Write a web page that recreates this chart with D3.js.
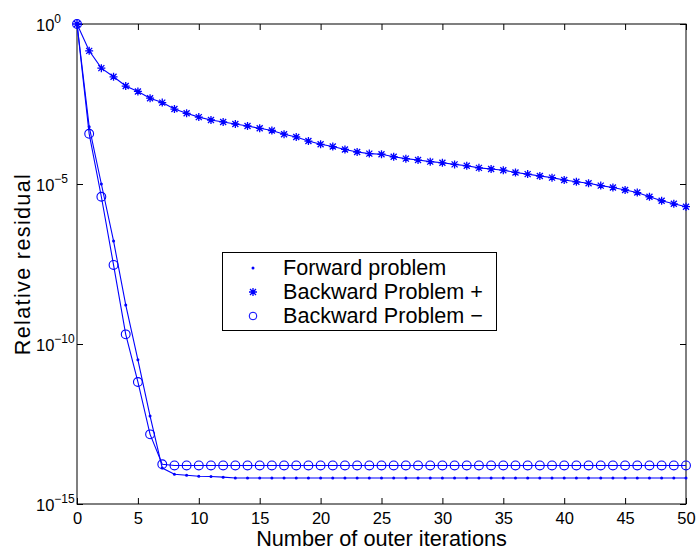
<!DOCTYPE html>
<html>
<head>
<meta charset="utf-8">
<script src="https://cdn.jsdelivr.net/npm/d3@7"></script>
<style>
  body { margin: 0; background: #fff; }
  text { font-family: "Liberation Sans", Arial, sans-serif; fill: #000; }
</style>
</head>
<body>
<div id="chart"></div>
<script>
// iteration numbers 0..50
var iterations = [0,1,2,3,4,5,6,7,8,9,10,11,12,13,14,15,16,17,18,19,20,21,22,23,24,25,
  26,27,28,29,30,31,32,33,34,35,36,37,38,39,40,41,42,43,44,45,46,47,48,49,50];

// relative residuals
var forward = [1, 6.2e-4, 1.0e-5, 1.66e-7, 1.66e-9, 3.2e-11, 5.6e-13, 1.33e-14, 8.5e-15, 7.9e-15,
  7.4e-15, 7.2e-15, 6.9e-15, 6.5e-15, 6.5e-15, 6.5e-15, 6.5e-15, 6.5e-15, 6.5e-15, 6.5e-15,
  6.5e-15, 6.5e-15, 6.5e-15, 6.5e-15, 6.5e-15, 6.5e-15, 6.5e-15, 6.5e-15, 6.5e-15, 6.5e-15,
  6.5e-15, 6.5e-15, 6.5e-15, 6.5e-15, 6.5e-15, 6.5e-15, 6.5e-15, 6.5e-15, 6.5e-15, 6.5e-15,
  6.5e-15, 6.5e-15, 6.5e-15, 6.5e-15, 6.5e-15, 6.5e-15, 6.5e-15, 6.5e-15, 6.5e-15, 6.5e-15, 6.5e-15];

var backwardPlus = [1, 0.145, 0.0417, 0.0224, 0.0115, 7.8e-3, 4.8e-3, 3.5e-3, 2.2e-3, 1.62e-3,
  1.23e-3, 1.0e-3, 8.7e-4, 7.5e-4, 6.5e-4, 5.5e-4, 4.7e-4, 3.6e-4, 2.95e-4, 2.2e-4,
  1.74e-4, 1.48e-4, 1.2e-4, 1.0e-4, 8.9e-5, 8.5e-5, 7.1e-5, 6.2e-5, 5.6e-5, 5.0e-5,
  4.6e-5, 4.1e-5, 3.7e-5, 3.2e-5, 2.95e-5, 2.7e-5, 2.3e-5, 2.04e-5, 1.78e-5, 1.58e-5,
  1.33e-5, 1.17e-5, 1.05e-5, 8.9e-6, 7.8e-6, 6.5e-6, 5.4e-6, 4.0e-6, 3.0e-6, 2.4e-6, 1.95e-6];

var backwardMinus = [1, 3.7e-4, 4.0e-6, 2.95e-8, 2.0e-10, 6.5e-12, 1.5e-13, 1.74e-14, 1.6e-14, 1.6e-14,
  1.6e-14, 1.6e-14, 1.6e-14, 1.6e-14, 1.6e-14, 1.6e-14, 1.6e-14, 1.6e-14, 1.6e-14, 1.6e-14,
  1.6e-14, 1.6e-14, 1.6e-14, 1.6e-14, 1.6e-14, 1.6e-14, 1.6e-14, 1.6e-14, 1.6e-14, 1.6e-14,
  1.6e-14, 1.6e-14, 1.6e-14, 1.6e-14, 1.6e-14, 1.6e-14, 1.6e-14, 1.6e-14, 1.6e-14, 1.6e-14,
  1.6e-14, 1.6e-14, 1.6e-14, 1.6e-14, 1.6e-14, 1.6e-14, 1.6e-14, 1.6e-14, 1.6e-14, 1.6e-14, 1.6e-14];

var xTicks = [0, 5, 10, 15, 20, 25, 30, 35, 40, 45, 50];
var yTicks = [1, 1e-5, 1e-10, 1e-15];
var yTickExp = ["0", "\u22125", "\u221210", "\u221215"];
var legendLabels = ["Forward problem", "Backward Problem +", "Backward Problem \u2212"];

var width = 699, height = 554;
var plotLeft = 77, plotRight = 686, plotTop = 24, plotBottom = 504;
var blue = "#0000ff";

var svg = d3.select("#chart").append("svg")
  .attr("width", width)
  .attr("height", height);

var x = d3.scaleLinear().domain([0, 50]).range([plotLeft, plotRight]);
var y = d3.scaleLog().domain([1e-15, 1]).range([plotBottom, plotTop]);

// axes box with inward ticks on all four sides
svg.append("g")
  .attr("transform", "translate(0," + plotBottom + ")")
  .call(d3.axisBottom(x).tickValues(xTicks).tickSize(-6).tickPadding(8).tickFormat(d3.format("d")))
  .call(function (g) {
    g.select(".domain").remove();
    g.selectAll("text").style("font-size", "16.5px");
  });

svg.append("g")
  .attr("transform", "translate(0," + plotTop + ")")
  .call(d3.axisTop(x).tickValues(xTicks).tickSize(-6).tickFormat(""))
  .call(function (g) { g.select(".domain").remove(); });

var yAxis = svg.append("g")
  .attr("transform", "translate(" + plotLeft + ",0)")
  .call(d3.axisLeft(y).tickValues(yTicks).tickSize(-6).tickFormat(""))
  .call(function (g) { g.select(".domain").remove(); });

yAxis.selectAll(".tick text")
  .attr("x", -41)
  .attr("dy", "0.4em")
  .attr("text-anchor", "start")
  .style("font-size", "16.5px")
  .each(function (d, i) {
    var t = d3.select(this);
    t.append("tspan").text("10");
    t.append("tspan").attr("dy", -8).style("font-size", "12px").text(yTickExp[i]);
  });

svg.append("g")
  .attr("transform", "translate(" + plotRight + ",0)")
  .call(d3.axisRight(y).tickValues(yTicks).tickSize(-6).tickFormat(""))
  .call(function (g) { g.select(".domain").remove(); });

svg.selectAll(".tick line").attr("stroke", "#000");

svg.append("rect")
  .attr("x", plotLeft).attr("y", plotTop)
  .attr("width", plotRight - plotLeft).attr("height", plotBottom - plotTop)
  .attr("fill", "none").attr("stroke", "#000").attr("stroke-width", 1);

// lines
var series = [forward, backwardPlus, backwardMinus];
var line = d3.line()
  .x(function (d, i) { return x(iterations[i]); })
  .y(function (d) { return y(d); });

svg.selectAll(".series-line")
  .data(series)
  .enter().append("path")
  .attr("class", "series-line")
  .attr("d", line)
  .attr("fill", "none")
  .attr("stroke", blue)
  .attr("stroke-width", 1.1);

// marker shapes
var starPath = "M-4,0H4M0,-4V4M-3,-3L3,3M-3,3L3,-3";

function drawMarker(sel, kind) {
  if (kind === 0) {
    sel.append("circle").attr("r", 1.5).attr("fill", blue);
  } else if (kind === 1) {
    sel.append("path").attr("d", starPath).attr("stroke", blue).attr("stroke-width", 1.3).attr("fill", "none");
  } else {
    sel.append("circle").attr("r", 4.4).attr("fill", "none").attr("stroke", blue).attr("stroke-width", 1.1);
  }
}

series.forEach(function (values, k) {
  svg.append("g").selectAll("g")
    .data(values)
    .enter().append("g")
    .attr("transform", function (d, i) { return "translate(" + x(iterations[i]) + "," + y(d) + ")"; })
    .each(function () { drawMarker(d3.select(this), k); });
});

// axis labels
svg.append("text")
  .attr("x", (plotLeft + plotRight) / 2)
  .attr("y", 546)
  .attr("text-anchor", "middle")
  .style("font-size", "21.7px")
  .text("Number of outer iterations");

svg.append("text")
  .attr("transform", "translate(30," + (plotTop + plotBottom) / 2 + ") rotate(-90)")
  .attr("text-anchor", "middle")
  .style("font-size", "21.7px")
  .style("letter-spacing", "1.3px")
  .text("Relative residual");

// legend
var legend = svg.append("g");
legend.append("rect")
  .attr("x", 222.5).attr("y", 252.5)
  .attr("width", 274).attr("height", 78)
  .attr("fill", "#fff").attr("stroke", "#000").attr("stroke-width", 1);

legendLabels.forEach(function (label, k) {
  var baseY = 275 + k * 24;
  var m = legend.append("g").attr("transform", "translate(253," + (baseY - 7) + ")");
  if (k === 2) {
    m.append("circle").attr("r", 3.8).attr("fill", "none").attr("stroke", blue).attr("stroke-width", 1);
  } else {
    drawMarker(m, k);
  }
  legend.append("text")
    .attr("x", 283)
    .attr("y", baseY)
    .style("font-size", "21.6px")
    .text(label);
});
</script>
</body>
</html>
